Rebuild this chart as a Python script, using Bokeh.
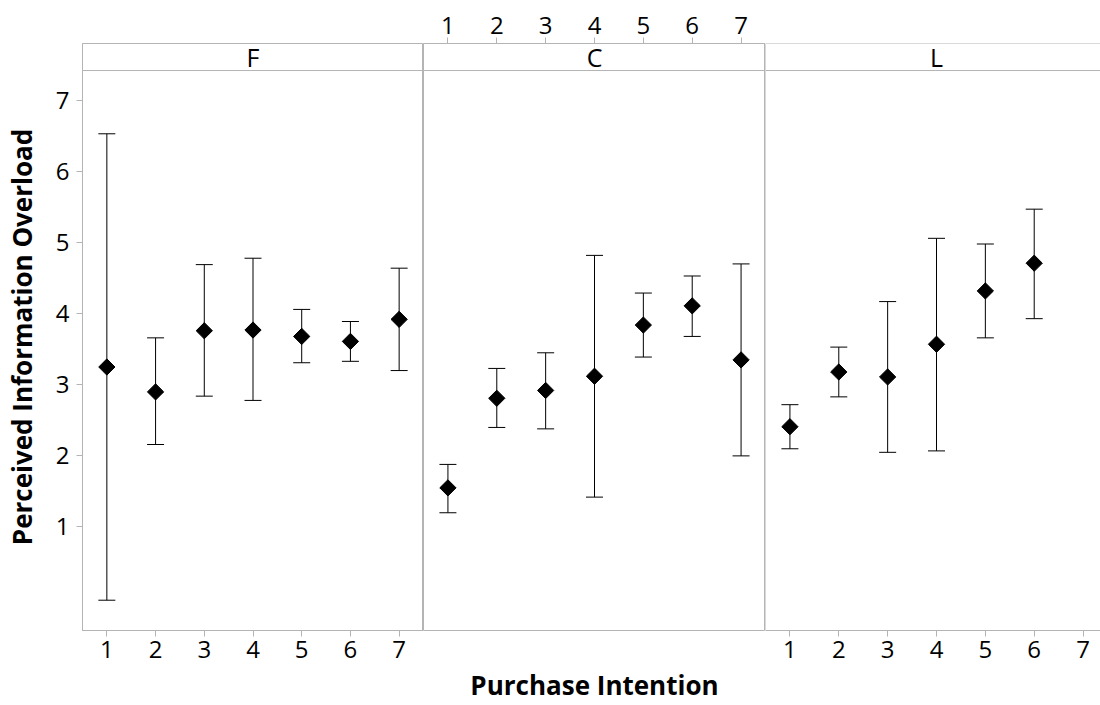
import numpy as np
from bokeh.plotting import figure
from bokeh.layouts import row
from bokeh.models import (ColumnDataSource, Whisker, TeeHead, FixedTicker, LinearAxis,
                          Span, Label, Range1d)
from bokeh.embed import file_html
from bokeh.resources import INLINE

# ---------------- data ----------------
panels = ["F", "C", "L"]
ticks_x = [1, 2, 3, 4, 5, 6, 7]
y_ticks = [1, 2, 3, 4, 5, 6, 7]

F_x = [1, 2, 3, 4, 5, 6, 7]
F_mean = [3.25, 2.90, 3.76, 3.77, 3.68, 3.61, 3.92]
F_lower = [-0.03, 2.16, 2.84, 2.78, 3.31, 3.33, 3.20]
F_upper = [6.53, 3.66, 4.69, 4.78, 4.06, 3.89, 4.64]

C_x = [1, 2, 3, 4, 5, 6, 7]
C_mean = [1.55, 2.81, 2.92, 3.12, 3.84, 4.11, 3.35]
C_lower = [1.20, 2.40, 2.38, 1.42, 3.39, 3.68, 2.00]
C_upper = [1.88, 3.23, 3.45, 4.82, 4.29, 4.53, 4.70]

L_x = [1, 2, 3, 4, 5, 6]
L_mean = [2.41, 3.18, 3.11, 3.57, 4.32, 4.71]
L_lower = [2.10, 2.83, 2.05, 2.07, 3.66, 3.93]
L_upper = [2.72, 3.53, 4.17, 5.06, 4.98, 5.47]

# ---------------- style ----------------
GRAY = "#b4b4b4"
FONT = "Open Sans"
Y_MIN, Y_STRIP, Y_TOP = -0.456, 7.42, 7.80
X_MIN, X_MAX = 0.5, 7.5
PANEL_W = 342
TOP_B, BOT_B = 43, 74
H = 705


def style_axis(ax):
    ax.axis_line_color = GRAY
    ax.major_tick_line_color = GRAY
    ax.minor_tick_line_color = None
    ax.major_tick_in = 0
    ax.major_tick_out = 6
    ax.major_label_text_font = FONT
    ax.major_label_text_font_size = "24px"
    ax.major_label_text_color = "black"
    ax.major_label_standoff = 4
    ax.axis_label_text_font = FONT
    ax.axis_label_text_font_size = "26px"
    ax.axis_label_text_font_style = "bold"
    ax.axis_label_text_color = "black"


def make_panel(name, xs, mean, lower, upper, width, x_end, left_border,
               x_loc, y_loc, outline=True):
    p = figure(width=width, height=H, output_backend="svg", toolbar_location=None,
               x_range=Range1d(X_MIN, x_end), y_range=Range1d(Y_MIN, Y_TOP),
               x_axis_location=x_loc, y_axis_location=y_loc,
               min_border_left=left_border, min_border_right=0,
               min_border_top=TOP_B, min_border_bottom=BOT_B,
               background_fill_color="white", border_fill_color="white")
    p.xgrid.visible = False
    p.ygrid.visible = False
    p.outline_line_color = GRAY if outline else None
    p.outline_line_width = 1
    for ax in p.xaxis:
        style_axis(ax)
        ax.ticker = FixedTicker(ticks=ticks_x)
    for ax in p.yaxis:
        style_axis(ax)
        ax.ticker = FixedTicker(ticks=y_ticks)
    src = ColumnDataSource(dict(x=xs, mean=mean, lower=lower, upper=upper))
    w = Whisker(source=src, base="x", upper="upper", lower="lower", dimension="height",
                line_color="black", line_width=1,
                upper_head=TeeHead(size=17, line_color="black", line_width=1),
                lower_head=TeeHead(size=17, line_color="black", line_width=1))
    p.add_layout(w)
    p.scatter(x="x", y="mean", source=src, marker="square", angle=np.pi / 4,
              size=11.5, fill_color="black", line_color="black")
    # strip
    p.add_layout(Span(location=Y_STRIP, dimension="width", line_color=GRAY, line_width=1))
    p.add_layout(Label(x=4, y=(Y_STRIP + Y_TOP) / 2, text=name, text_align="center",
                       text_baseline="middle", text_font=FONT, text_font_size="25px",
                       text_color="black"))
    return p


pF = make_panel("F", F_x, F_mean, F_lower, F_upper, 81 + PANEL_W, X_MAX, 81,
                "below", "left")
pF.yaxis[0].axis_label = "Perceived Information Overload"
pF.yaxis[0].axis_label_standoff = 13
pF.yaxis[0].major_label_standoff = 7

pC = make_panel("C", C_x, C_mean, C_lower, C_upper, PANEL_W, X_MAX, 0,
                "above", None)
lab_axis = LinearAxis(ticker=FixedTicker(ticks=[]), axis_label="Purchase Intention")
style_axis(lab_axis)
lab_axis.axis_line_color = None
lab_axis.major_tick_out = 0
lab_axis.major_label_standoff = 0
lab_axis.axis_label_standoff = 36
pC.add_layout(lab_axis, "below")

L_width = 1100 - 81 - 2 * PANEL_W
pL = make_panel("L", L_x, L_mean, L_lower, L_upper, L_width,
                X_MIN + (X_MAX - X_MIN) * L_width / PANEL_W, 0, "below", None,
                outline=False)
pL.add_layout(Span(location=X_MIN, dimension="height", line_color=GRAY, line_width=1))
pL.add_layout(Span(location=Y_TOP, dimension="width", line_color=GRAY, line_width=1))

layout = row(pF, pC, pL, spacing=0)
open("out.html", "w").write(file_html(layout, INLINE))
